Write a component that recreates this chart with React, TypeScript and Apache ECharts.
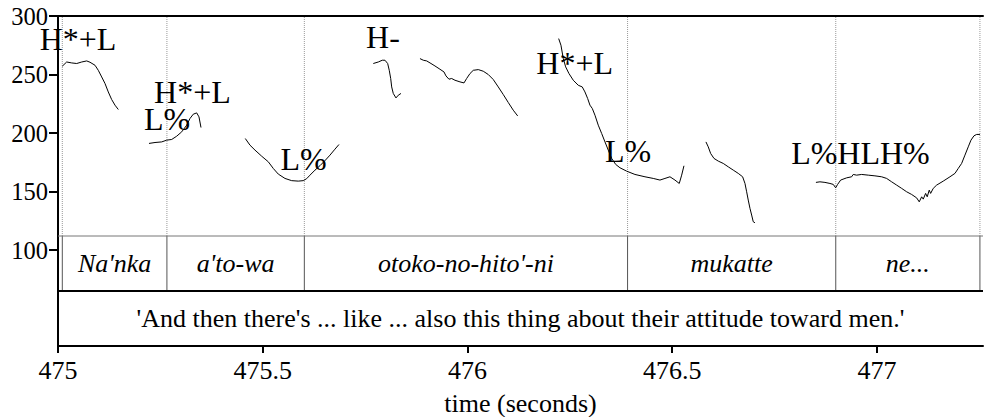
import React, { useEffect, useRef } from "react";
import * as echarts from "echarts";

// Time span of the excerpt (seconds) and frequency span of the axis (Hz)
const T_MIN = 475;
const T_MAX = 477.259;
const F_MIN = 18;
const F_MAX = 300;

const xTickValues = [475, 475.5, 476, 476.5, 477];
const yTickValues = [100, 150, 200, 250, 300];

// Annotation tiers occupy the lower band of the frequency axis
const WORD_TIER_TOP = 112;
const WORD_TIER_BOTTOM = 65;

// Word tier
const wordBoundaries = [475.0105, 475.266, 475.6016, 476.391, 476.8994, 477.2515];
const words = ["Na'nka", "a'to-wa", "otoko-no-hito'-ni", "mukatte", "ne..."];
const translation =
  "'And then there's ... like ... also this thing about their attitude toward men.'";

// Tone labels: text, anchor time, anchor frequency
const toneLabels = ["H*+L", "H*+L", "L%", "L%", "H-", "H*+L", "L%", "L%HLH%"];
const toneTimes = [475.0488, 475.3284, 475.2662, 475.5995, 475.7937, 476.2618, 476.392, 476.9597];
const toneHz = [280.1, 234.9, 211.8, 178.1, 281.8, 260.1, 184.5, 182.8];

// F0 contour segments: [time (s), F0 (Hz)]
const f0Nanka = [
  [475.0105, 257.1], [475.0212, 260.7], [475.0335, 259.9], [475.0457, 259.4], [475.0579, 260.7],
  [475.0701, 261.6], [475.0781, 260.5], [475.0904, 257.9], [475.0984, 253.6], [475.1067, 247.9],
  [475.1148, 242.3], [475.1228, 235.1], [475.1311, 228.6], [475.1392, 223.8], [475.1473, 220.1],
];
const f0Atowa = [
  [475.2222, 191.1], [475.2369, 191.9], [475.2532, 192.4], [475.2654, 193.9], [475.2777, 194.5],
  [475.2899, 197.3], [475.3021, 201.0], [475.3143, 206.7], [475.3223, 212.4], [475.3304, 216.1],
  [475.3387, 217.2], [475.3443, 213.8], [475.3492, 204.7],
];
const f0Dip = [
  [475.4574, 195.3], [475.4689, 189.6], [475.4811, 185.4], [475.4974, 180.2], [475.5136, 175.4],
  [475.5258, 169.7], [475.538, 164.9], [475.5543, 161.2], [475.5707, 159.3], [475.5868, 158.9],
  [475.599, 159.3], [475.6073, 161.0], [475.6154, 164.0], [475.6276, 168.3], [475.6398, 172.1],
  [475.652, 176.4], [475.6642, 181.1], [475.6764, 186.2], [475.6862, 190.2],
];
const f0Otoko = [
  [475.77, 259.4], [475.7822, 260.7], [475.7919, 262.2], [475.7985, 262.2], [475.8051, 259.4],
  [475.809, 253.6], [475.8125, 246.6], [475.8149, 239.4], [475.8188, 233.8], [475.8254, 230.0],
  [475.831, 232.3], [475.8376, 233.8],
];
const f0Hito = [
  [475.884, 263.6], [475.8921, 262.2], [475.9004, 261.6], [475.9109, 259.4], [475.9206, 257.3],
  [475.9328, 254.5], [475.9426, 252.2], [475.9475, 248.8], [475.9548, 246.0], [475.9614, 246.6],
  [475.9695, 245.1], [475.9817, 243.7], [475.9915, 242.8], [475.998, 246.6], [476.0061, 250.8],
  [476.0142, 253.6], [476.0264, 254.2], [476.0386, 252.8], [476.0508, 250.0], [476.063, 245.7],
  [476.0752, 239.4], [476.0874, 232.9], [476.0996, 226.1], [476.1118, 219.5], [476.1226, 214.6],
];
const f0Ni = [
  [476.2227, 280.7], [476.2283, 275.0], [476.234, 263.6], [476.2398, 256.5], [476.2479, 250.8],
  [476.2584, 245.1], [476.2706, 240.8], [476.2803, 239.4], [476.2869, 235.1], [476.2935, 229.5],
  [476.2991, 223.8], [476.3048, 221.0], [476.3114, 215.2], [476.3194, 206.7], [476.3277, 199.6],
  [476.3358, 192.4], [476.3438, 185.4], [476.3521, 178.3], [476.3619, 173.2], [476.3724, 170.3],
  [476.3888, 167.4], [476.409, 164.6], [476.4335, 162.6], [476.4537, 161.2], [476.4701, 159.8],
  [476.4823, 161.2], [476.4945, 162.6], [476.5067, 159.8], [476.5172, 156.9], [476.5231, 164.0],
  [476.5287, 172.0],
];
const f0Mukatte = [
  [476.5824, 192.4], [476.588, 188.2], [476.5939, 182.5], [476.602, 178.3], [476.6125, 176.0],
  [476.6247, 174.0], [476.6369, 171.1], [476.6491, 168.3], [476.6613, 165.5], [476.672, 162.6],
  [476.6777, 156.9], [476.6818, 149.8], [476.6857, 142.7], [476.6899, 135.6], [476.694, 129.9],
  [476.6979, 124.2], [476.7021, 123.3],
];
const f0Ne = [
  [476.851, 157.8], [476.8608, 158.3], [476.873, 157.8], [476.8852, 156.9], [476.8933, 156.1],
  [476.8991, 153.2], [476.904, 156.1], [476.9114, 159.8], [476.926, 161.7], [476.9382, 162.6],
  [476.9421, 164.6], [476.9504, 164.0], [476.9626, 164.6], [476.9788, 164.0], [476.9951, 163.4],
  [477.0115, 162.6], [477.0237, 161.2], [477.0359, 158.3], [477.0481, 155.5], [477.0603, 152.7],
  [477.0725, 149.8], [477.0847, 147.5], [477.0969, 144.6], [477.1033, 141.2], [477.1092, 145.5],
  [477.1131, 143.5], [477.1189, 148.4], [477.1228, 145.5], [477.1277, 151.2], [477.1311, 148.4],
  [477.1375, 152.7], [477.1458, 155.5], [477.1619, 158.9], [477.1783, 162.6], [477.1905, 165.5],
  [477.1985, 169.7], [477.2068, 174.0], [477.2149, 181.1], [477.223, 188.2], [477.2296, 193.9],
  [477.2369, 197.6], [477.2435, 198.8], [477.2515, 198.8],
];
const f0Segments = [f0Nanka, f0Atowa, f0Dip, f0Otoko, f0Hito, f0Ni, f0Mukatte, f0Ne];

const SERIF = "Liberation Serif";

function textStyle(text: string, x: number, y: number, size: number, italic = false, lineHeight?: number) {
  return {
    text,
    x,
    y,
    fontSize: size,
    fontFamily: SERIF,
    fontStyle: italic ? "italic" : "normal",
    lineHeight: lineHeight ?? size,
    fill: "#000",
    align: "center",
    verticalAlign: "middle",
  };
}

export default function App() {
  const ref = useRef<HTMLDivElement>(null);

  useEffect(() => {
    if (!ref.current) return;
    const chart = echarts.init(ref.current, undefined, { renderer: "svg" });

    const contourSeries = f0Segments.map((seg) => ({
      type: "line",
      data: seg,
      showSymbol: false,
      symbol: "none",
      smooth: false,
      xAxisIndex: 0,
      yAxisIndex: 0,
      lineStyle: { color: "#000", width: 1 },
      z: 3,
    }));

    const option = {
      animation: false,
      backgroundColor: "#fff",
      textStyle: { fontFamily: SERIF },
      grid: { left: 58, right: 1, top: 16, bottom: 71, outerBoundsMode: "none", containLabel: false },
      xAxis: [
        {
          type: "value",
          min: T_MIN,
          max: T_MAX,
          interval: 0.5,
          position: "bottom",
          name: "time (seconds)",
          nameLocation: "middle",
          nameGap: 44,
          nameTextStyle: { fontSize: 26, fontFamily: SERIF, color: "#000" },
          axisLine: { show: true, lineStyle: { color: "#000", width: 2 } },
          axisTick: { show: true, length: 7, lineStyle: { color: "#000", width: 2 }, customValues: xTickValues },
          axisLabel: {
            fontSize: 26,
            fontFamily: SERIF,
            color: "#000",
            margin: 11,
            customValues: xTickValues,
            formatter: (v: number) => String(v),
          },
          splitLine: { show: false },
        },
        {
          type: "value",
          min: T_MIN,
          max: T_MAX,
          position: "top",
          axisLine: { show: true, lineStyle: { color: "#000", width: 2 } },
          axisTick: { show: false },
          axisLabel: { show: false },
          splitLine: { show: false },
        },
      ],
      yAxis: {
        type: "value",
        min: F_MIN,
        max: F_MAX,
        axisLine: { show: true, lineStyle: { color: "#000", width: 2 } },
        axisTick: { show: true, length: 9, lineStyle: { color: "#000", width: 2 }, customValues: yTickValues },
        axisLabel: {
          fontSize: 24.5,
          fontFamily: SERIF,
          color: "#000",
          margin: 10,
          customValues: yTickValues,
        },
        splitLine: { show: false },
      },
      series: [
        // Tier frame lines and translation text
        {
          type: "custom",
          xAxisIndex: 0,
          yAxisIndex: 0,
          data: [[T_MIN]],
          z: 2,
          renderItem: (_p: any, api: any) => {
            const a = api.coord([T_MIN, WORD_TIER_TOP]);
            const b = api.coord([T_MAX, WORD_TIER_BOTTOM]);
            const c = api.coord([(T_MIN + T_MAX) / 2, (WORD_TIER_BOTTOM + F_MIN) / 2]);
            return {
              type: "group",
              children: [
                {
                  type: "line",
                  shape: { x1: a[0], y1: a[1], x2: b[0], y2: a[1] },
                  style: { stroke: "#777", lineWidth: 1 },
                },
                {
                  type: "line",
                  shape: { x1: a[0], y1: b[1], x2: b[0], y2: b[1] },
                  style: { stroke: "#000", lineWidth: 2 },
                },
                { type: "text", style: textStyle(translation, c[0], c[1], 26) },
              ],
            };
          },
        },
        // Word boundaries: solid in the word tier, dotted through the pitch panel
        {
          type: "custom",
          xAxisIndex: 0,
          yAxisIndex: 0,
          data: wordBoundaries.map((t) => [t]),
          z: 1,
          renderItem: (_p: any, api: any) => {
            const t = api.value(0);
            const lo = api.coord([t, WORD_TIER_BOTTOM]);
            const mid = api.coord([t, WORD_TIER_TOP]);
            const hi = api.coord([t, F_MAX]);
            return {
              type: "group",
              children: [
                {
                  type: "line",
                  shape: { x1: lo[0], y1: lo[1], x2: mid[0], y2: mid[1] },
                  style: { stroke: "#555", lineWidth: 1 },
                },
                {
                  type: "line",
                  shape: { x1: mid[0], y1: mid[1], x2: hi[0], y2: hi[1] },
                  style: { stroke: "#999", lineWidth: 1, lineDash: [1, 1] },
                },
              ],
            };
          },
        },
        // Word labels
        {
          type: "custom",
          xAxisIndex: 0,
          yAxisIndex: 0,
          data: words.map((_w, i) => [wordBoundaries[i], wordBoundaries[i + 1]]),
          z: 2,
          renderItem: (p: any, api: any) => {
            const s = api.value(0);
            const e = api.value(1);
            const c = api.coord([(s + e) / 2, (WORD_TIER_TOP + WORD_TIER_BOTTOM) / 2]);
            return { type: "text", style: textStyle(words[p.dataIndex], c[0], c[1], 26, true) };
          },
        },
        // Tone labels
        {
          type: "custom",
          xAxisIndex: 0,
          yAxisIndex: 0,
          data: toneTimes.map((t, i) => [t, toneHz[i]]),
          z: 4,
          renderItem: (p: any, api: any) => {
            const c = api.coord([api.value(0), api.value(1)]);
            return { type: "text", style: textStyle(toneLabels[p.dataIndex], c[0], c[1], 32, false, 24) };
          },
        },
        ...contourSeries,
      ],
    };

    chart.setOption(option as any);
    return () => chart.dispose();
  }, []);

  return (
    <div
      ref={ref}
      style={{ position: "absolute", left: 0, top: 0, width: 984, height: 417, background: "#fff" }}
    />
  );
}
